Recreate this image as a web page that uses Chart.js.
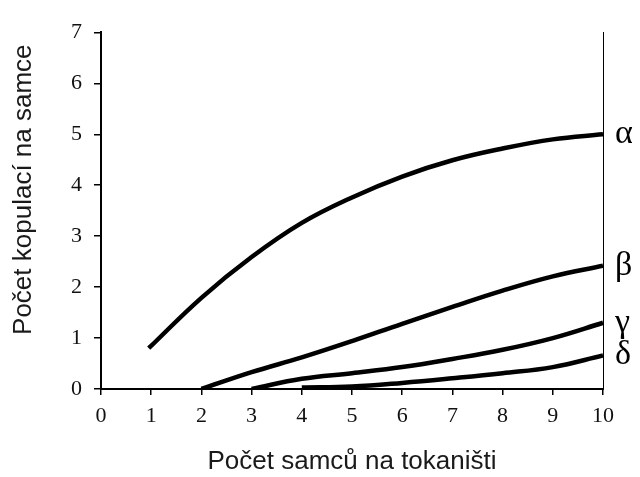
<!DOCTYPE html>
<html>
<head>
<meta charset="utf-8">
<script src="https://cdn.jsdelivr.net/npm/chart.js@4"></script>
<style>
  body { margin: 0; background: #fff; }
  #wrap { width: 640px; height: 477px; position: relative; }
</style>
</head>
<body>
<div id="wrap"><canvas id="chart"></canvas></div>
<script>
// data
const seriesNames = ["α", "β", "γ", "δ"];
const alphaX = [0.95, 2, 3, 4, 5, 6, 7, 8, 9, 10];
const alphaY = [0.8, 1.79, 2.59, 3.26, 3.76, 4.17, 4.49, 4.72, 4.9, 5.0];
const betaX = [2, 3, 4, 5, 6, 7, 8, 9, 10];
const betaY = [0, 0.33, 0.62, 0.94, 1.28, 1.61, 1.93, 2.21, 2.42];
const gammaX = [3, 4, 5, 6, 7, 8, 9, 10];
const gammaY = [0, 0.2, 0.31, 0.43, 0.59, 0.77, 1.0, 1.3];
const deltaX = [4, 5, 6, 7, 8, 9, 10];
const deltaY = [0.03, 0.05, 0.12, 0.21, 0.31, 0.43, 0.66];
const xTicks = [0, 1, 2, 3, 4, 5, 6, 7, 8, 9, 10];
const yTicks = [0, 1, 2, 3, 4, 5, 6, 7];
const xTitle = "Počet samců na tokaništi";
const yTitle = "Počet kopulací na samce";

function toPoints(xs, ys) {
  return xs.map((x, i) => ({ x: x, y: ys[i] }));
}

const allY = [alphaY, betaY, gammaY, deltaY];
// the greek labels sit at the end value of each curve
const endValues = allY.map(ys => ys[ys.length - 1]);

function lineSet(name, xs, ys) {
  return {
    label: name,
    data: toPoints(xs, ys),
    borderColor: "#000",
    borderWidth: 4.5,
    pointRadius: 0,
    fill: false,
    tension: 0.4,
    borderCapStyle: "butt"
  };
}

// y title drawn by hand so it can sit a bit above the middle like in the original
const yTitlePlugin = {
  id: "yTitle",
  afterDraw(chart) {
    const ctx = chart.ctx;
    const area = chart.chartArea;
    ctx.save();
    ctx.translate(24, (area.top + area.bottom) / 2 - 21);
    ctx.rotate(-Math.PI / 2);
    ctx.font = "26px 'Liberation Sans', Arial, sans-serif";
    ctx.fillStyle = "#1a1a1a";
    ctx.textAlign = "center";
    ctx.textBaseline = "middle";
    ctx.fillText(yTitle, 0, 0);
    ctx.restore();
  }
};

const ctx = document.getElementById("chart").getContext("2d");
new Chart(ctx, {
  type: "line",
  data: {
    datasets: [
      lineSet(seriesNames[0], alphaX, alphaY),
      lineSet(seriesNames[1], betaX, betaY),
      lineSet(seriesNames[2], gammaX, gammaY),
      lineSet(seriesNames[3], deltaX, deltaY)
    ]
  },
  options: {
    responsive: true,
    maintainAspectRatio: false,
    animation: false,
    layout: { padding: { top: 24, left: 0, right: 0, bottom: 0 } },
    plugins: {
      legend: { display: false },
      tooltip: { enabled: false }
    },
    scales: {
      x: {
        type: "linear",
        min: 0,
        max: 10,
        afterBuildTicks: scale => { scale.ticks = xTicks.map(v => ({ value: v })); },
        afterFit: scale => { scale.height = 88; },
        ticks: {
          color: "#111",
          font: { family: "'Liberation Serif', 'Times New Roman', serif", size: 22 },
          padding: 8,
          maxRotation: 0,
          autoSkip: false
        },
        grid: { display: true, drawOnChartArea: false, drawTicks: true, tickLength: 6, color: "#000", lineWidth: 1.5 },
        border: { display: true, color: "#000", width: 2 },
        title: {
          display: true,
          text: xTitle,
          color: "#1a1a1a",
          font: { family: "'Liberation Sans', Arial, sans-serif", size: 26 },
          padding: { top: 0, bottom: 0 }
        }
      },
      y: {
        type: "linear",
        position: "left",
        min: 0,
        max: 7,
        afterBuildTicks: scale => { scale.ticks = yTicks.map(v => ({ value: v })); },
        afterFit: scale => { scale.width = 101; },
        ticks: {
          color: "#111",
          font: { family: "'Liberation Serif', 'Times New Roman', serif", size: 22 },
          padding: 12,
          autoSkip: false
        },
        grid: { display: true, drawOnChartArea: false, drawTicks: true, tickLength: 7, color: "#000", lineWidth: 1.5 },
        border: { display: true, color: "#000", width: 2 }
      },
      y2: {
        type: "linear",
        position: "right",
        min: 0,
        max: 7,
        afterBuildTicks: scale => { scale.ticks = endValues.map(v => ({ value: v })); },
        afterFit: scale => { scale.width = 37; },
        ticks: {
          color: "#000",
          font: { family: "'Liberation Serif', 'Times New Roman', serif", size: 34 },
          padding: 12,
          autoSkip: false,
          callback: (value, index) => seriesNames[index]
        },
        grid: { display: false, drawTicks: false },
        border: { display: true, color: "#000", width: 1 }
      }
    }
  },
  plugins: [yTitlePlugin]
});
</script>
</body>
</html>
